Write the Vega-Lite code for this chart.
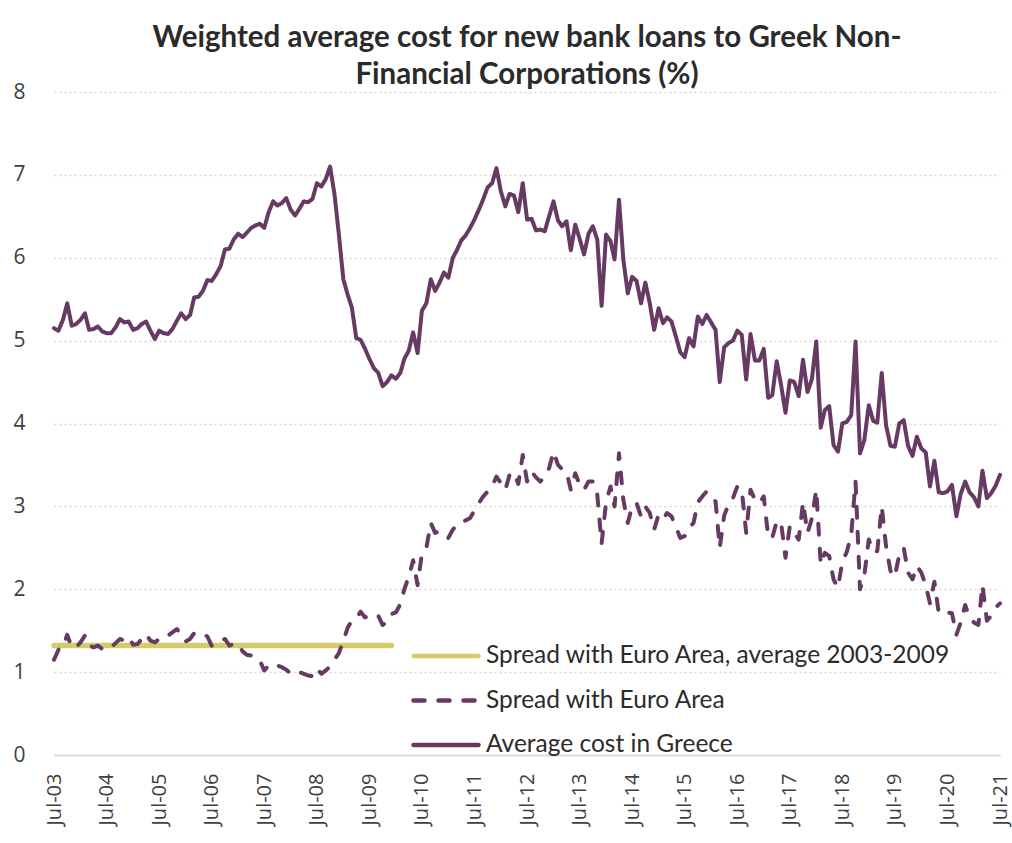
{
  "$schema": "https://vega.github.io/schema/vega-lite/v6.json",
  "width": 946,
  "height": 663,
  "autosize": {"type": "none"},
  "padding": {"left": 54, "top": 92, "right": 12, "bottom": 88},
  "background": "white",
  "title": {
    "text": ["Weighted average cost for new bank loans to Greek Non-", "Financial Corporations (%)"],
    "font": "Lato",
    "fontSize": 29.5,
    "fontWeight": "bold",
    "color": "#2b2b2b",
    "anchor": "middle",
    "frame": "group",
    "lineHeight": 37,
    "offset": -9
  },
  "config": {
    "view": {"stroke": null},
    "legend": {"padding": 0}
  },
  "datasets": {
    "average": [
      {"d": "2003-07", "series": "avg", "v": 1.32},
      {"d": "2009-12", "series": "avg", "v": 1.32}
    ],
    "monthly": [
      {"d": "2003-07", "cost": 5.15, "spread": 1.15},
      {"d": "2003-08", "cost": 5.12, "spread": 1.27},
      {"d": "2003-09", "cost": 5.25, "spread": 1.30},
      {"d": "2003-10", "cost": 5.45, "spread": 1.45},
      {"d": "2003-11", "cost": 5.18, "spread": 1.30},
      {"d": "2003-12", "cost": 5.20, "spread": 1.30},
      {"d": "2004-01", "cost": 5.25, "spread": 1.36},
      {"d": "2004-02", "cost": 5.33, "spread": 1.44},
      {"d": "2004-03", "cost": 5.13, "spread": 1.32},
      {"d": "2004-04", "cost": 5.14, "spread": 1.30},
      {"d": "2004-05", "cost": 5.17, "spread": 1.32},
      {"d": "2004-06", "cost": 5.11, "spread": 1.28},
      {"d": "2004-07", "cost": 5.09, "spread": 1.27},
      {"d": "2004-08", "cost": 5.09, "spread": 1.30},
      {"d": "2004-09", "cost": 5.16, "spread": 1.35},
      {"d": "2004-10", "cost": 5.26, "spread": 1.40},
      {"d": "2004-11", "cost": 5.22, "spread": 1.38},
      {"d": "2004-12", "cost": 5.23, "spread": 1.42},
      {"d": "2005-01", "cost": 5.13, "spread": 1.33},
      {"d": "2005-02", "cost": 5.15, "spread": 1.34},
      {"d": "2005-03", "cost": 5.20, "spread": 1.40},
      {"d": "2005-04", "cost": 5.23, "spread": 1.46},
      {"d": "2005-05", "cost": 5.12, "spread": 1.38},
      {"d": "2005-06", "cost": 5.02, "spread": 1.36},
      {"d": "2005-07", "cost": 5.12, "spread": 1.40},
      {"d": "2005-08", "cost": 5.09, "spread": 1.40},
      {"d": "2005-09", "cost": 5.08, "spread": 1.44},
      {"d": "2005-10", "cost": 5.14, "spread": 1.48},
      {"d": "2005-11", "cost": 5.24, "spread": 1.52},
      {"d": "2005-12", "cost": 5.33, "spread": 1.45},
      {"d": "2006-01", "cost": 5.26, "spread": 1.37},
      {"d": "2006-02", "cost": 5.31, "spread": 1.40},
      {"d": "2006-03", "cost": 5.52, "spread": 1.47},
      {"d": "2006-04", "cost": 5.53, "spread": 1.45},
      {"d": "2006-05", "cost": 5.60, "spread": 1.46},
      {"d": "2006-06", "cost": 5.73, "spread": 1.43},
      {"d": "2006-07", "cost": 5.72, "spread": 1.32},
      {"d": "2006-08", "cost": 5.80, "spread": 1.35},
      {"d": "2006-09", "cost": 5.90, "spread": 1.38},
      {"d": "2006-10", "cost": 6.10, "spread": 1.40},
      {"d": "2006-11", "cost": 6.11, "spread": 1.32},
      {"d": "2006-12", "cost": 6.22, "spread": 1.34},
      {"d": "2007-01", "cost": 6.29, "spread": 1.34},
      {"d": "2007-02", "cost": 6.25, "spread": 1.25},
      {"d": "2007-03", "cost": 6.30, "spread": 1.21},
      {"d": "2007-04", "cost": 6.36, "spread": 1.20},
      {"d": "2007-05", "cost": 6.39, "spread": 1.18},
      {"d": "2007-06", "cost": 6.41, "spread": 1.14},
      {"d": "2007-07", "cost": 6.36, "spread": 1.02},
      {"d": "2007-08", "cost": 6.55, "spread": 1.08},
      {"d": "2007-09", "cost": 6.68, "spread": 1.10},
      {"d": "2007-10", "cost": 6.63, "spread": 1.08},
      {"d": "2007-11", "cost": 6.66, "spread": 1.06},
      {"d": "2007-12", "cost": 6.72, "spread": 1.03},
      {"d": "2008-01", "cost": 6.58, "spread": 0.98},
      {"d": "2008-02", "cost": 6.51, "spread": 0.98},
      {"d": "2008-03", "cost": 6.59, "spread": 1.00},
      {"d": "2008-04", "cost": 6.68, "spread": 0.98},
      {"d": "2008-05", "cost": 6.67, "spread": 0.96},
      {"d": "2008-06", "cost": 6.71, "spread": 0.95},
      {"d": "2008-07", "cost": 6.90, "spread": 1.04},
      {"d": "2008-08", "cost": 6.86, "spread": 0.98},
      {"d": "2008-09", "cost": 6.95, "spread": 1.02},
      {"d": "2008-10", "cost": 7.10, "spread": 1.07},
      {"d": "2008-11", "cost": 6.76, "spread": 1.15},
      {"d": "2008-12", "cost": 6.28, "spread": 1.23},
      {"d": "2009-01", "cost": 5.74, "spread": 1.38},
      {"d": "2009-02", "cost": 5.55, "spread": 1.54},
      {"d": "2009-03", "cost": 5.40, "spread": 1.62},
      {"d": "2009-04", "cost": 5.03, "spread": 1.65},
      {"d": "2009-05", "cost": 5.01, "spread": 1.73},
      {"d": "2009-06", "cost": 4.90, "spread": 1.66},
      {"d": "2009-07", "cost": 4.78, "spread": 1.68},
      {"d": "2009-08", "cost": 4.67, "spread": 1.70},
      {"d": "2009-09", "cost": 4.61, "spread": 1.68},
      {"d": "2009-10", "cost": 4.45, "spread": 1.57},
      {"d": "2009-11", "cost": 4.50, "spread": 1.60},
      {"d": "2009-12", "cost": 4.58, "spread": 1.70},
      {"d": "2010-01", "cost": 4.54, "spread": 1.72},
      {"d": "2010-02", "cost": 4.61, "spread": 1.82},
      {"d": "2010-03", "cost": 4.78, "spread": 2.00},
      {"d": "2010-04", "cost": 4.88, "spread": 2.15},
      {"d": "2010-05", "cost": 5.10, "spread": 2.35},
      {"d": "2010-06", "cost": 4.85, "spread": 2.05},
      {"d": "2010-07", "cost": 5.36, "spread": 2.43},
      {"d": "2010-08", "cost": 5.45, "spread": 2.50},
      {"d": "2010-09", "cost": 5.74, "spread": 2.80},
      {"d": "2010-10", "cost": 5.60, "spread": 2.68},
      {"d": "2010-11", "cost": 5.70, "spread": 2.70},
      {"d": "2010-12", "cost": 5.82, "spread": 2.66},
      {"d": "2011-01", "cost": 5.76, "spread": 2.62},
      {"d": "2011-02", "cost": 6.00, "spread": 2.72},
      {"d": "2011-03", "cost": 6.09, "spread": 2.78},
      {"d": "2011-04", "cost": 6.21, "spread": 2.81},
      {"d": "2011-05", "cost": 6.27, "spread": 2.83},
      {"d": "2011-06", "cost": 6.36, "spread": 2.86},
      {"d": "2011-07", "cost": 6.46, "spread": 2.95},
      {"d": "2011-08", "cost": 6.58, "spread": 3.04},
      {"d": "2011-09", "cost": 6.71, "spread": 3.12},
      {"d": "2011-10", "cost": 6.85, "spread": 3.18},
      {"d": "2011-11", "cost": 6.90, "spread": 3.24},
      {"d": "2011-12", "cost": 7.08, "spread": 3.36},
      {"d": "2012-01", "cost": 6.80, "spread": 3.28},
      {"d": "2012-02", "cost": 6.62, "spread": 3.20},
      {"d": "2012-03", "cost": 6.77, "spread": 3.38},
      {"d": "2012-04", "cost": 6.75, "spread": 3.41},
      {"d": "2012-05", "cost": 6.55, "spread": 3.27},
      {"d": "2012-06", "cost": 6.90, "spread": 3.62},
      {"d": "2012-07", "cost": 6.46, "spread": 3.30},
      {"d": "2012-08", "cost": 6.47, "spread": 3.42},
      {"d": "2012-09", "cost": 6.33, "spread": 3.35},
      {"d": "2012-10", "cost": 6.34, "spread": 3.30},
      {"d": "2012-11", "cost": 6.32, "spread": 3.36},
      {"d": "2012-12", "cost": 6.50, "spread": 3.46},
      {"d": "2013-01", "cost": 6.68, "spread": 3.66},
      {"d": "2013-02", "cost": 6.45, "spread": 3.50},
      {"d": "2013-03", "cost": 6.38, "spread": 3.45},
      {"d": "2013-04", "cost": 6.44, "spread": 3.42},
      {"d": "2013-05", "cost": 6.09, "spread": 3.20},
      {"d": "2013-06", "cost": 6.40, "spread": 3.40},
      {"d": "2013-07", "cost": 6.23, "spread": 3.26},
      {"d": "2013-08", "cost": 6.04, "spread": 3.20},
      {"d": "2013-09", "cost": 6.29, "spread": 3.30},
      {"d": "2013-10", "cost": 6.38, "spread": 3.30},
      {"d": "2013-11", "cost": 6.22, "spread": 3.14},
      {"d": "2013-12", "cost": 5.42, "spread": 2.55},
      {"d": "2014-01", "cost": 6.28, "spread": 3.05},
      {"d": "2014-02", "cost": 6.20, "spread": 3.24},
      {"d": "2014-03", "cost": 5.98, "spread": 3.00},
      {"d": "2014-04", "cost": 6.70, "spread": 3.64},
      {"d": "2014-05", "cost": 5.98, "spread": 3.08},
      {"d": "2014-06", "cost": 5.57, "spread": 2.80},
      {"d": "2014-07", "cost": 5.77, "spread": 3.00},
      {"d": "2014-08", "cost": 5.72, "spread": 3.04},
      {"d": "2014-09", "cost": 5.45, "spread": 2.88},
      {"d": "2014-10", "cost": 5.70, "spread": 3.00},
      {"d": "2014-11", "cost": 5.45, "spread": 2.92},
      {"d": "2014-12", "cost": 5.13, "spread": 2.72},
      {"d": "2015-01", "cost": 5.39, "spread": 2.90},
      {"d": "2015-02", "cost": 5.21, "spread": 2.85},
      {"d": "2015-03", "cost": 5.28, "spread": 2.92},
      {"d": "2015-04", "cost": 5.23, "spread": 2.88},
      {"d": "2015-05", "cost": 5.05, "spread": 2.75},
      {"d": "2015-06", "cost": 4.86, "spread": 2.62},
      {"d": "2015-07", "cost": 4.80, "spread": 2.64},
      {"d": "2015-08", "cost": 5.03, "spread": 2.74},
      {"d": "2015-09", "cost": 4.93, "spread": 2.80},
      {"d": "2015-10", "cost": 5.29, "spread": 3.05},
      {"d": "2015-11", "cost": 5.20, "spread": 3.12},
      {"d": "2015-12", "cost": 5.31, "spread": 3.18},
      {"d": "2016-01", "cost": 5.22, "spread": 3.12},
      {"d": "2016-02", "cost": 5.13, "spread": 3.06},
      {"d": "2016-03", "cost": 4.50, "spread": 2.50},
      {"d": "2016-04", "cost": 4.92, "spread": 2.89},
      {"d": "2016-05", "cost": 4.97, "spread": 3.02},
      {"d": "2016-06", "cost": 5.00, "spread": 3.10},
      {"d": "2016-07", "cost": 5.12, "spread": 3.24},
      {"d": "2016-08", "cost": 5.07, "spread": 3.20},
      {"d": "2016-09", "cost": 4.53, "spread": 2.68},
      {"d": "2016-10", "cost": 5.08, "spread": 3.20},
      {"d": "2016-11", "cost": 4.76, "spread": 3.08},
      {"d": "2016-12", "cost": 4.76, "spread": 3.04},
      {"d": "2017-01", "cost": 4.90, "spread": 3.12},
      {"d": "2017-02", "cost": 4.31, "spread": 2.63},
      {"d": "2017-03", "cost": 4.34, "spread": 2.62},
      {"d": "2017-04", "cost": 4.75, "spread": 2.82},
      {"d": "2017-05", "cost": 4.47, "spread": 2.81},
      {"d": "2017-06", "cost": 4.13, "spread": 2.38},
      {"d": "2017-07", "cost": 4.52, "spread": 2.76},
      {"d": "2017-08", "cost": 4.50, "spread": 2.68},
      {"d": "2017-09", "cost": 4.33, "spread": 2.60},
      {"d": "2017-10", "cost": 4.77, "spread": 3.05},
      {"d": "2017-11", "cost": 4.38, "spread": 2.68},
      {"d": "2017-12", "cost": 4.53, "spread": 2.85},
      {"d": "2018-01", "cost": 4.99, "spread": 3.20},
      {"d": "2018-02", "cost": 3.95, "spread": 2.30},
      {"d": "2018-03", "cost": 4.16, "spread": 2.44},
      {"d": "2018-04", "cost": 4.21, "spread": 2.40},
      {"d": "2018-05", "cost": 3.74, "spread": 2.12},
      {"d": "2018-06", "cost": 3.66, "spread": 2.02},
      {"d": "2018-07", "cost": 4.00, "spread": 2.33},
      {"d": "2018-08", "cost": 4.02, "spread": 2.45},
      {"d": "2018-09", "cost": 4.10, "spread": 2.66},
      {"d": "2018-10", "cost": 4.99, "spread": 3.30},
      {"d": "2018-11", "cost": 3.64, "spread": 2.00},
      {"d": "2018-12", "cost": 3.80, "spread": 2.17},
      {"d": "2019-01", "cost": 4.22, "spread": 2.60},
      {"d": "2019-02", "cost": 4.03, "spread": 2.45},
      {"d": "2019-03", "cost": 4.01, "spread": 2.46},
      {"d": "2019-04", "cost": 4.61, "spread": 3.00},
      {"d": "2019-05", "cost": 3.98, "spread": 2.52},
      {"d": "2019-06", "cost": 3.73, "spread": 2.22},
      {"d": "2019-07", "cost": 3.72, "spread": 2.15},
      {"d": "2019-08", "cost": 4.00, "spread": 2.42},
      {"d": "2019-09", "cost": 4.04, "spread": 2.50},
      {"d": "2019-10", "cost": 3.73, "spread": 2.20},
      {"d": "2019-11", "cost": 3.61, "spread": 2.12},
      {"d": "2019-12", "cost": 3.84, "spread": 2.28},
      {"d": "2020-01", "cost": 3.70, "spread": 2.20},
      {"d": "2020-02", "cost": 3.65, "spread": 2.05},
      {"d": "2020-03", "cost": 3.24, "spread": 1.83},
      {"d": "2020-04", "cost": 3.55, "spread": 2.09},
      {"d": "2020-05", "cost": 3.17, "spread": 1.72},
      {"d": "2020-06", "cost": 3.16, "spread": 1.70},
      {"d": "2020-07", "cost": 3.18, "spread": 1.72},
      {"d": "2020-08", "cost": 3.26, "spread": 1.71},
      {"d": "2020-09", "cost": 2.88, "spread": 1.45},
      {"d": "2020-10", "cost": 3.15, "spread": 1.60},
      {"d": "2020-11", "cost": 3.30, "spread": 1.81},
      {"d": "2020-12", "cost": 3.17, "spread": 1.66},
      {"d": "2021-01", "cost": 3.11, "spread": 1.60},
      {"d": "2021-02", "cost": 3.00, "spread": 1.57},
      {"d": "2021-03", "cost": 3.43, "spread": 2.05},
      {"d": "2021-04", "cost": 3.10, "spread": 1.62},
      {"d": "2021-05", "cost": 3.16, "spread": 1.68},
      {"d": "2021-06", "cost": 3.25, "spread": 1.78},
      {"d": "2021-07", "cost": 3.38, "spread": 1.83}
    ]
  },
  "encoding": {
    "x": {
      "field": "d",
      "type": "temporal",
      "scale": {
        "type": "utc",
        "domain": [
          {"year": 2003, "month": 7, "date": 1, "utc": true},
          {"year": 2021, "month": 7, "date": 1, "utc": true}
        ]
      },
      "axis": {
        "title": null,
        "values": [
          {"year": 2003, "month": 7, "date": 1, "utc": true},
          {"year": 2004, "month": 7, "date": 1, "utc": true},
          {"year": 2005, "month": 7, "date": 1, "utc": true},
          {"year": 2006, "month": 7, "date": 1, "utc": true},
          {"year": 2007, "month": 7, "date": 1, "utc": true},
          {"year": 2008, "month": 7, "date": 1, "utc": true},
          {"year": 2009, "month": 7, "date": 1, "utc": true},
          {"year": 2010, "month": 7, "date": 1, "utc": true},
          {"year": 2011, "month": 7, "date": 1, "utc": true},
          {"year": 2012, "month": 7, "date": 1, "utc": true},
          {"year": 2013, "month": 7, "date": 1, "utc": true},
          {"year": 2014, "month": 7, "date": 1, "utc": true},
          {"year": 2015, "month": 7, "date": 1, "utc": true},
          {"year": 2016, "month": 7, "date": 1, "utc": true},
          {"year": 2017, "month": 7, "date": 1, "utc": true},
          {"year": 2018, "month": 7, "date": 1, "utc": true},
          {"year": 2019, "month": 7, "date": 1, "utc": true},
          {"year": 2020, "month": 7, "date": 1, "utc": true},
          {"year": 2021, "month": 7, "date": 1, "utc": true}
        ],
        "format": "%b-%y",
        "labelAngle": 270,
        "labelFont": "Open Sans",
        "labelFontSize": 20,
        "labelColor": "#404040",
        "labelPadding": 18,
        "labelOverlap": false,
        "labelBound": false,
        "labelFlush": false,
        "ticks": false,
        "grid": false,
        "domain": true,
        "domainColor": "#e0ded3",
        "domainWidth": 2
      }
    },
    "y": {
      "field": "v",
      "type": "quantitative",
      "scale": {"domain": [0, 8], "nice": false, "zero": true},
      "axis": {
        "title": null,
        "values": [0, 1, 2, 3, 4, 5, 6, 7, 8],
        "grid": true,
        "gridDash": [2, 3],
        "gridColor": "#d9d7c8",
        "gridWidth": 1.5,
        "domain": false,
        "ticks": false,
        "labelFont": "Open Sans",
        "labelFontSize": 21,
        "labelColor": "#404040",
        "labelPadding": 29
      }
    },
    "color": {
      "field": "series",
      "type": "nominal",
      "scale": {
        "domain": ["avg", "spread", "cost"],
        "range": ["#d4cc6a", "#673a63", "#673a63"]
      },
      "legend": {
        "title": null,
        "orient": "none",
        "legendX": 357,
        "legendY": 553,
        "direction": "vertical",
        "clipHeight": 22,
        "rowPadding": 19.5,
        "symbolType": "stroke",
        "symbolSize": 4225,
        "symbolStrokeWidth": 4.5,
        "labelFont": "Lato",
        "labelFontSize": 24.5,
        "labelColor": "#2b2b2b",
        "labelOffset": 5,
        "labelLimit": 700,
        "labelExpr": "datum.value === 'avg' ? 'Spread with Euro Area, average 2003-2009' : datum.value === 'spread' ? 'Spread with Euro Area' : 'Average cost in Greece'",
        "encode": {"symbols": {"update": {"strokeCap": {"value": "round"}}}}
      }
    },
    "strokeDash": {
      "field": "series",
      "type": "nominal",
      "scale": {
        "domain": ["avg", "spread", "cost"],
        "range": [[1, 0], [11, 14], [1, 0]]
      },
      "legend": null
    }
  },
  "layer": [
    {
      "data": {"name": "average"},
      "mark": {"type": "line", "strokeWidth": 5.5, "strokeCap": "round"}
    },
    {
      "data": {"name": "monthly"},
      "transform": [{"fold": ["spread", "cost"], "as": ["series", "v"]}],
      "mark": {"type": "line", "strokeWidth": 4, "strokeCap": "round", "strokeJoin": "round"}
    }
  ]
}
